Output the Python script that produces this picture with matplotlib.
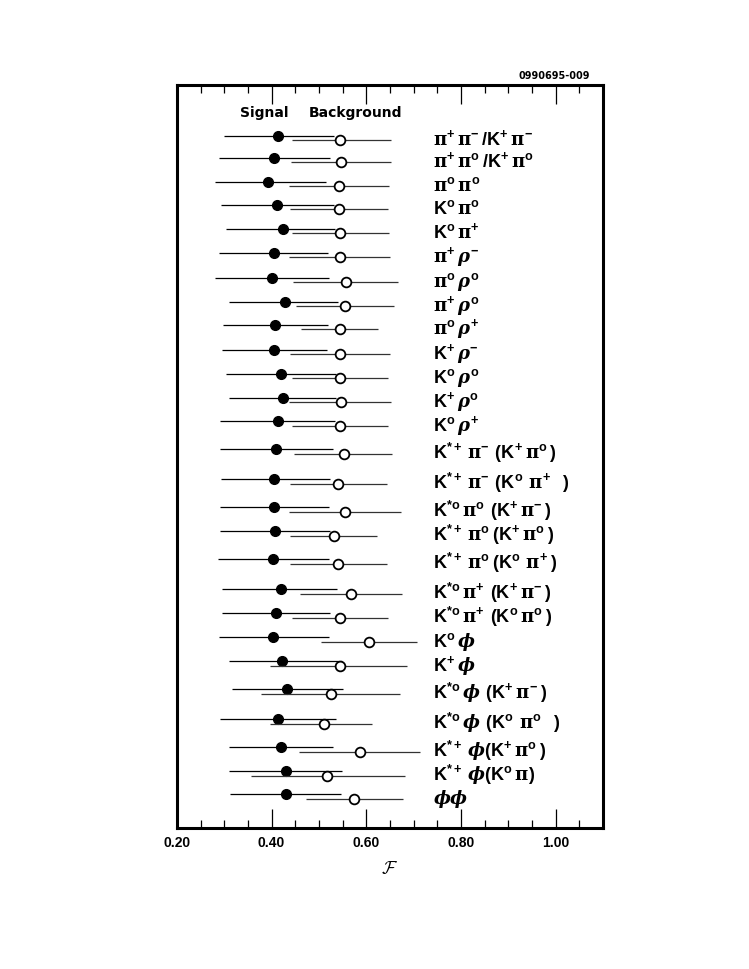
import matplotlib
matplotlib.use("Agg")
import matplotlib.pyplot as plt
from matplotlib.ticker import MultipleLocator

plt.rcParams.update({
    'mathtext.fontset': 'custom',
    'mathtext.rm': 'Liberation Sans:bold',
    'mathtext.bf': 'Liberation Sans:bold',
    'mathtext.it': 'DejaVu Serif:italic:bold',
    'mathtext.sf': 'DejaVu Serif:bold',
    'font.family': 'Liberation Sans',
})

# decay modes, top to bottom
modes = [
    'π^{+}π^{-}/K^{+}π^{-}',
    'π^{+}π^{o}/K^{+}π^{o}',
    'π^{o}π^{o}',
    'K^{o}π^{o}',
    'K^{o}π^{+}',
    'π^{+}ρ^{-}',
    'π^{o}ρ^{o}',
    'π^{+}ρ^{o}',
    'π^{o}ρ^{+}',
    'K^{+}ρ^{-}',
    'K^{o}ρ^{o}',
    'K^{+}ρ^{o}',
    'K^{o}ρ^{+}',
    'K^{*+}π^{-} (K^{+}π^{o})',
    'K^{*+}π^{-} (K^{o} π^{+}  )',
    'K^{*o}π^{o} (K^{+}π^{-})',
    'K^{*+}π^{o}(K^{+}π^{o})',
    'K^{*+}π^{o}(K^{o} π^{+})',
    'K^{*o}π^{+} (K^{+}π^{-})',
    'K^{*o}π^{+} (K^{o}π^{o})',
    'K^{o}ϕ',
    'K^{+}ϕ',
    'K^{*o}ϕ (K^{+}π^{-})',
    'K^{*o}ϕ (K^{o} π^{o}  )',
    'K^{*+}ϕ(K^{+}π^{o})',
    'K^{*+}ϕ(K^{o}π)',
    'ϕϕ',
]

# row position (vertical, arbitrary units growing downward)
row_y = [135, 157, 181, 204, 228, 252, 277, 301, 324, 349, 373, 397, 421,
         449, 479, 507, 531, 559, 589, 613, 637, 661, 689, 719, 747, 771, 794]

# signal: central value and range
sig = [0.413, 0.406, 0.392, 0.411, 0.424, 0.406, 0.401, 0.429, 0.408, 0.406,
       0.420, 0.424, 0.413, 0.410, 0.406, 0.406, 0.408, 0.403, 0.420, 0.410,
       0.404, 0.423, 0.432, 0.413, 0.420, 0.430, 0.430]
sig_lo = [0.299, 0.288, 0.280, 0.293, 0.304, 0.288, 0.281, 0.311, 0.297, 0.295,
          0.304, 0.309, 0.290, 0.290, 0.293, 0.290, 0.290, 0.286, 0.296, 0.295,
          0.288, 0.309, 0.316, 0.292, 0.311, 0.311, 0.312]
sig_hi = [0.531, 0.524, 0.515, 0.531, 0.534, 0.520, 0.522, 0.541, 0.520, 0.517,
          0.536, 0.536, 0.533, 0.529, 0.524, 0.522, 0.524, 0.522, 0.539, 0.524,
          0.522, 0.548, 0.551, 0.536, 0.529, 0.548, 0.546]

# background: central value and range
bkg = [0.545, 0.546, 0.543, 0.543, 0.545, 0.545, 0.557, 0.555, 0.545, 0.545,
       0.545, 0.546, 0.545, 0.552, 0.541, 0.555, 0.531, 0.541, 0.567, 0.545,
       0.605, 0.544, 0.525, 0.510, 0.586, 0.518, 0.574]
bkg_lo = [0.444, 0.441, 0.437, 0.439, 0.443, 0.437, 0.445, 0.452, 0.462, 0.439,
          0.444, 0.437, 0.444, 0.448, 0.439, 0.437, 0.439, 0.439, 0.460, 0.444,
          0.504, 0.397, 0.377, 0.397, 0.458, 0.356, 0.473]
bkg_hi = [0.653, 0.653, 0.648, 0.646, 0.647, 0.651, 0.668, 0.658, 0.624, 0.651,
          0.646, 0.653, 0.646, 0.655, 0.644, 0.673, 0.622, 0.644, 0.675, 0.646,
          0.707, 0.686, 0.672, 0.612, 0.714, 0.681, 0.677]


def to_math(s):
    s = s.replace('}', r'}\,').replace('}\\, ', '} ')
    s = s.replace('o', r'\mathrm{o}')
    s = s.replace(' ', r'\ ')
    s = s.replace('K', r'\mathrm{K}')
    s = s.replace('π', r'\mathsf{\pi}')
    s = s.replace('ρ', r'\rho').replace('ϕ', r'\phi')
    return '$' + s + '$'


fig = plt.figure(figsize=(7.49, 9.69), dpi=100)
ax = fig.add_axes([0.2362, 0.1455, 0.5688, 0.7669])

bkg_y = [y + 4.5 for y in row_y]
ax.errorbar(sig, row_y, xerr=[[v - l for v, l in zip(sig, sig_lo)],
                              [h - v for v, h in zip(sig, sig_hi)]],
            fmt='o', color='black', ms=7, elinewidth=0.9, capsize=0, zorder=3)
ax.errorbar(bkg, bkg_y, xerr=[[v - l for v, l in zip(bkg, bkg_lo)],
                              [h - v for v, h in zip(bkg, bkg_hi)]],
            fmt='o', color='black', mfc='white', mec='black', mew=1.3, ms=7,
            elinewidth=0.9, ecolor='#333333', capsize=0, zorder=4)

for lab, y in zip(modes, row_y):
    ax.text(0.601, y + 9.5, to_math(lab), transform=ax.get_yaxis_transform(),
            fontsize=13, va='baseline', ha='left')

ax.text(0.148, 112, 'Signal', transform=ax.get_yaxis_transform(),
        fontsize=10, va='center', ha='left', family='DejaVu Sans',
        fontweight='bold')
ax.text(0.31, 112, 'Background', transform=ax.get_yaxis_transform(),
        fontsize=10, va='center', ha='left', family='DejaVu Sans',
        fontweight='bold')

ax.set_xlim(0.2, 1.1)
ax.set_ylim(828, 84)
ax.set_yticks([])
ax.xaxis.set_major_locator(MultipleLocator(0.2))
ax.xaxis.set_minor_locator(MultipleLocator(0.05))
ax.set_xticks([0.2, 0.4, 0.6, 0.8, 1.0])
ax.set_xticklabels(['0.20', '0.40', '0.60', '0.80', '1.00'], fontweight='bold')
ax.tick_params(axis='x', which='both', direction='in', top=True, bottom=True)
ax.tick_params(axis='x', which='major', length=13.5, width=0.9, labelsize=10, pad=6)
ax.tick_params(axis='x', which='minor', length=6, width=0.9)
for sp in ax.spines.values():
    sp.set_linewidth(2.2)

ax.set_xlabel(r'$\mathcal{F}$', fontsize=13, math_fontfamily='cm', labelpad=8)

fig.text(0.788, 0.922, '0990695-009', fontsize=7, ha='right', va='center',
         family='DejaVu Sans', fontweight='bold')

fig.savefig('out.png', dpi=100)
